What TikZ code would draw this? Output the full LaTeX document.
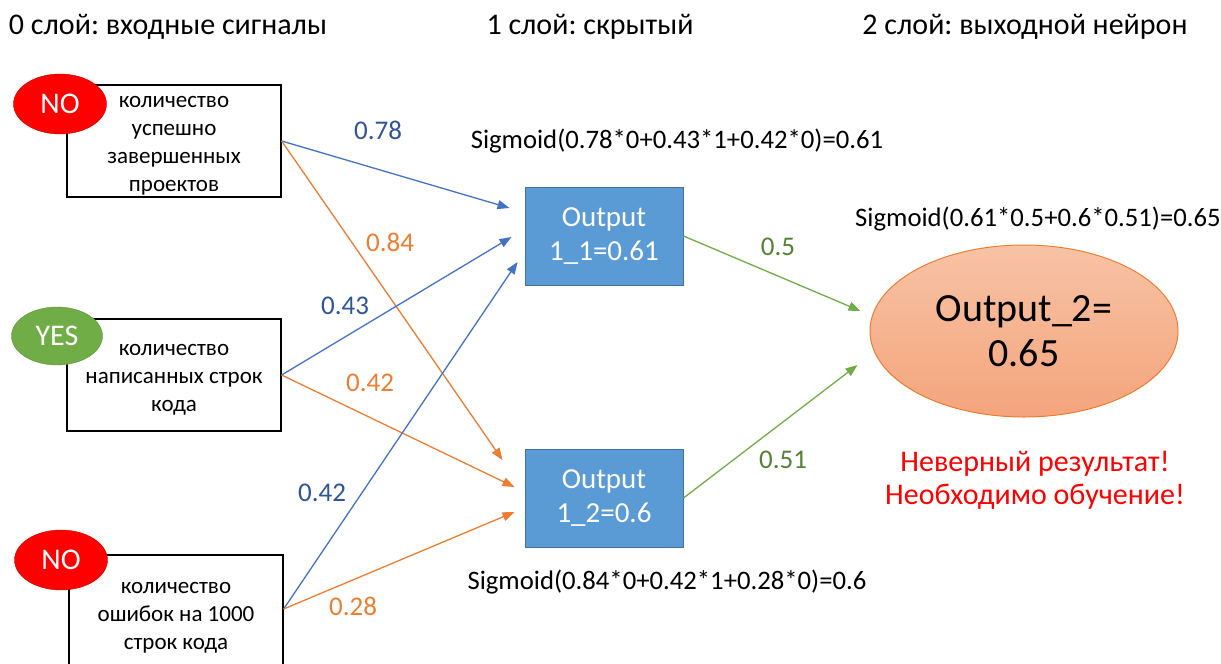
\documentclass[tikz,border=0pt]{standalone}
\usepackage{fontspec}
\setmainfont{Carlito}
\frenchspacing
\usetikzlibrary{arrows.meta,shapes.geometric,calc}
\definecolor{hblue}{HTML}{5B9BD5}
\definecolor{hblueb}{HTML}{41719C}
\definecolor{abl}{HTML}{4472C4}
\definecolor{aor}{HTML}{ED7D31}
\definecolor{agr}{HTML}{70AD47}
\definecolor{lbl}{HTML}{2F5597}
\definecolor{lgr}{HTML}{548235}
\definecolor{otop}{HTML}{F7C3A5}
\definecolor{obot}{HTML}{F4A47C}
\definecolor{nored}{HTML}{FF0000}
\definecolor{yesgr}{HTML}{70AD47}
\tikzset{
  inbox/.style={draw=black, line width=1.3pt, fill=white, minimum width=214pt, minimum height=112pt, inner sep=0pt},
  boxtext/.style={align=center, inner sep=0pt, yshift=-5pt, font=\fontsize{23}{28}\selectfont},
  flag/.style={ellipse, inner sep=0pt, minimum width=93pt, minimum height=60pt, text=white, font=\fontsize{30}{34}\selectfont},
  hbox/.style={draw=hblueb, line width=1pt, fill=hblue, minimum width=158pt, minimum height=98pt, inner sep=0pt, align=center, text=white, font=\fontsize{29}{34}\selectfont},
  conn/.style={line width=1.3pt, -{Triangle[length=12pt,width=9pt]}},
  bconn/.style={conn, draw=abl},
  oconn/.style={conn, draw=aor},
  gconn/.style={conn, draw=agr},
  wlabel/.style={font=\fontsize{27}{30}\selectfont, inner sep=0pt},
  heading/.style={font=\fontsize{30}{34}\selectfont, inner sep=0pt},
  sig/.style={font=\fontsize{26.7}{30}\selectfont, inner sep=0pt},
}
\begin{document}
\begin{tikzpicture}[x=1pt,y=-1pt]
\useasboundingbox (0,0) rectangle (1221,664);
% headings
\node[heading] (t0) at (168,27) {0 слой: входные сигналы};
\node[heading] (t1) at (590,27) {1 слой: скрытый};
\node[heading] (t2) at (1025,27) {2 слой: выходной нейрон};
% input boxes
\node[inbox, label={[boxtext]center:количество\\успешно\\завершенных\\проектов}] (in1) at (174,141) {};
\node[inbox, label={[boxtext]center:количество\\написанных строк\\кода}] (in2) at (174,375) {};
\node[inbox, minimum height=114pt, label={[boxtext, yshift=-1pt]center:количество\\ошибок на 1000\\строк кода}] (in3) at (176,612) {};
% flags
\node[flag, fill=nored, draw=nored!80!black] (f1) at (60,104) {NO};
\node[flag, fill=yesgr, draw=yesgr!85!black, minimum width=91pt, minimum height=58pt] (f2) at (57,336) {YES};
\node[flag, fill=nored, draw=nored!80!black] (f3) at (61,560) {NO};
% hidden
\node[hbox] (h1) at (604,236) {Output\\1\_1=0.61};
\node[hbox] (h2) at (604,498) {Output\\1\_2=0.6};
% output
\node[ellipse, draw=aor, line width=1pt, top color=otop, bottom color=obot, minimum width=308pt, minimum height=172pt, inner sep=0pt, align=center, font=\fontsize{40}{45}\selectfont] (out) at (1024,331) {Output\_2=\\0.65};
% connectors
\draw[bconn] (in1.east) -- ([xshift=-15pt,yshift=28pt]h1.west);
\draw[oconn] (in1.east) -- ([xshift=-22pt,yshift=38pt]h2.west);
\draw[bconn] (in2.east) -- ([xshift=-13pt,yshift=-1pt]h1.west);
\draw[oconn] (in2.east) -- ([xshift=-10pt,yshift=11pt]h2.west);
\draw[bconn] ([yshift=3pt]in3.east) -- ([xshift=-7pt,yshift=-26pt]h1.west);
\draw[oconn] ([yshift=3pt]in3.east) -- ([xshift=-10pt,yshift=-14pt]h2.west);
\draw[gconn] (h1.east) -- ([xshift=-9pt,yshift=20pt]out.west);
\draw[gconn] (h2.east) -- ([xshift=-12pt,yshift=-34pt]out.west);
% weight labels
\node[wlabel, text=lbl] (w1) at (378,130) {0.78};
\node[wlabel, text=aor] (w2) at (390,242) {0.84};
\node[wlabel, text=lbl] (w3) at (345,306) {0.43};
\node[wlabel, text=aor] (w4) at (370,383) {0.42};
\node[wlabel, text=lbl] (w5) at (322,493) {0.42};
\node[wlabel, text=aor] (w6) at (353,606) {0.28};
\node[wlabel, text=lgr] (w7) at (778,247) {0.5};
\node[wlabel, text=lgr] (w8) at (783,460) {0.51};
% sigmoid texts
\node[sig] (s1) at (677,141) {Sigmoid(0.78*0+0.43*1+0.42*0)=0.61};
\node[sig] (s2) at (1038,219) {Sigmoid(0.61*0.5+0.6*0.51)=0.65};
\node[sig] (s3) at (667,582) {Sigmoid(0.84*0+0.42*1+0.28*0)=0.6};
% red message
\node[font=\fontsize{30}{33}\selectfont, text=nored, align=center, inner sep=0pt] (msg) at (1035,480) {Неверный результат!\\Необходимо обучение!};
\end{tikzpicture}
\end{document}
